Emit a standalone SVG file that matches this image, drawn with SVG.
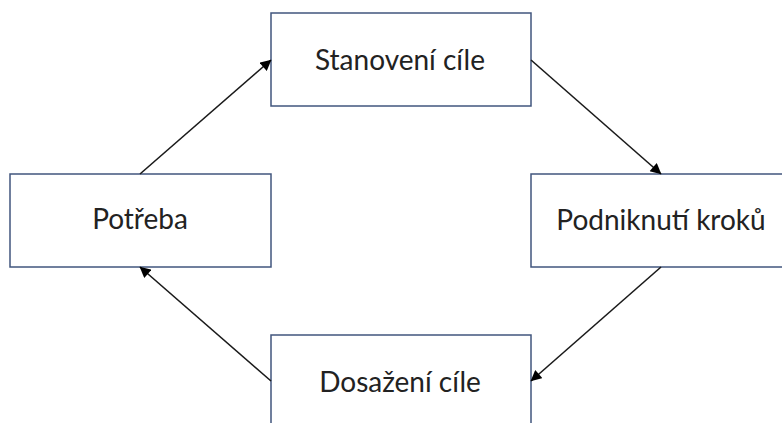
<svg xmlns="http://www.w3.org/2000/svg" width="782" height="423" viewBox="0 0 782 423">
  <style>
    .box { fill: #ffffff; stroke: #41567E; stroke-width: 1.5; }
    .lbl { font-family: Lato, "Open Sans", "Liberation Sans", sans-serif; font-size: 28px; fill: #222222; text-anchor: middle; }
    .edge { stroke: #1a1a1a; stroke-width: 1.6; fill: none; marker-end: url(#arr); }
  </style>
  <defs>
    <marker id="arr" viewBox="0 0 10 10" refX="9.5" refY="5" markerWidth="12" markerHeight="11" markerUnits="userSpaceOnUse" orient="auto">
      <path d="M0,0 L10,5 L0,10 z" fill="#000"/>
    </marker>
  </defs>
  <rect width="782" height="423" fill="#ffffff"/>
  <g id="stanoveni">
    <rect class="box" x="271" y="13" width="260" height="93"/>
    <text class="lbl" x="400" y="70">Stanovení cíle</text>
  </g>
  <g id="potreba">
    <rect class="box" x="10" y="174" width="261" height="93"/>
    <text class="lbl" x="140" y="229">Potřeba</text>
  </g>
  <g id="podniknuti">
    <rect class="box" x="531" y="174" width="261" height="93"/>
    <text class="lbl" x="661" y="230">Podniknutí kroků</text>
  </g>
  <g id="dosazeni">
    <rect class="box" x="271" y="335" width="260" height="93"/>
    <text class="lbl" x="400" y="392">Dosažení cíle</text>
  </g>
  <g id="connectors">
    <line class="edge" x1="140" y1="174" x2="271" y2="60"/>
    <line class="edge" x1="531" y1="60" x2="661" y2="174"/>
    <line class="edge" x1="661" y1="267" x2="531" y2="381"/>
    <line class="edge" x1="271" y1="381" x2="140" y2="267"/>
  </g>
</svg>
